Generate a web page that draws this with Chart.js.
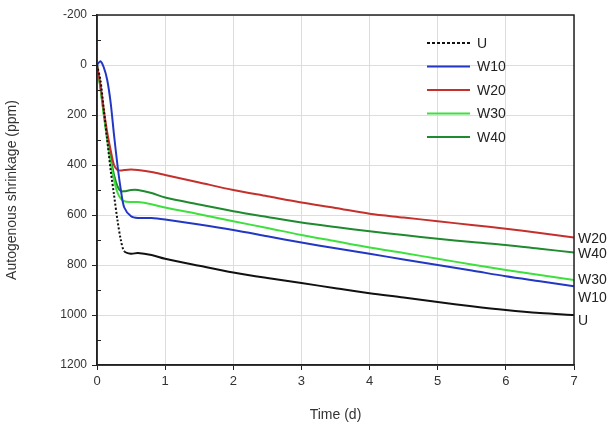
<!DOCTYPE html>
<html>
<head>
<meta charset="utf-8">
<script src="https://cdn.jsdelivr.net/npm/chart.js@4/dist/chart.umd.min.js"></script>
<style>
  body { margin: 0; background: #fff; }
</style>
</head>
<body>
<canvas id="chart" width="614" height="428"></canvas>
<script>
const time = [0, 0.05, 0.1, 0.15, 0.2, 0.25, 0.3, 0.35, 0.4, 0.5, 0.6, 0.8, 1, 1.5, 2, 2.5, 3, 3.5, 4, 4.5, 5, 5.5, 6, 6.5, 7];

const seriesU   = [0, 60, 180, 300, 420, 520, 620, 700, 745, 755, 752, 760, 775, 803, 830, 852, 872, 893, 913, 930, 948, 965, 980, 992, 1000];
const seriesW10 = [0, -15, 10, 60, 150, 280, 400, 500, 570, 605, 612, 612, 618, 638, 660, 685, 710, 733, 755, 778, 800, 822, 845, 865, 885];
const seriesW20 = [0, 80, 180, 270, 340, 400, 420, 422, 420, 418, 420, 428, 440, 470, 500, 525, 550, 572, 595, 610, 625, 640, 655, 672, 690];
const seriesW30 = [0, 90, 200, 300, 390, 460, 510, 535, 545, 548, 548, 557, 570, 597, 625, 652, 680, 705, 730, 752, 775, 798, 820, 840, 860];
const seriesW40 = [0, 90, 195, 290, 370, 440, 485, 505, 505, 500, 500, 512, 530, 558, 585, 608, 630, 648, 665, 680, 695, 708, 720, 735, 750];

const seriesNames = ['U', 'W10', 'W20', 'W30', 'W40'];
const seriesColors = ['#111111', '#2238c4', '#c4302c', '#3ee03e', '#1f8a2e'];

const xTicks = [0, 1, 2, 3, 4, 5, 6, 7];
const yTicks = [-200, 0, 200, 400, 600, 800, 1000, 1200];

const pts = vals => vals.map((v, i) => ({ x: time[i], y: v }));
const allSeries = [seriesU, seriesW10, seriesW20, seriesW30, seriesW40];

const font = '"Liberation Sans", Arial, sans-serif';

// frame around plot, minor ticks, legend inside, labels at line ends
const decorations = {
  id: 'decorations',
  afterDraw(chart) {
    const { ctx, chartArea: a } = chart;
    const yScale = chart.scales.y;
    ctx.save();
    ctx.strokeStyle = '#222';
    ctx.lineWidth = 1.5;
    ctx.strokeRect(a.left, a.top, a.right - a.left, a.bottom - a.top);

    // minor ticks halfway between the major ones
    ctx.lineWidth = 1;
    for (let i = 0; i < yTicks.length - 1; i++) {
      const y = Math.round(yScale.getPixelForValue((yTicks[i] + yTicks[i + 1]) / 2)) + 0.5;
      ctx.beginPath();
      ctx.moveTo(a.left, y);
      ctx.lineTo(a.left + 4, y);
      ctx.stroke();
    }

    // legend
    ctx.font = '14px ' + font;
    ctx.textBaseline = 'middle';
    chart.data.datasets.forEach((ds, i) => {
      const y = a.top + 28 + i * 23.5;
      ctx.strokeStyle = ds.borderColor;
      ctx.lineWidth = 2;
      ctx.setLineDash(i === 0 ? [3, 2] : []);
      ctx.beginPath();
      ctx.moveTo(a.left + 330, y);
      ctx.lineTo(a.left + 373, y);
      ctx.stroke();
      ctx.setLineDash([]);
      ctx.fillStyle = '#222';
      ctx.fillText(ds.label, a.left + 380, y + 1);
    });

    // end labels, nudged apart where lines crowd
    const nudge = { U: 4, W10: 10, W20: 0, W30: -2, W40: 0 };
    chart.data.datasets.forEach(ds => {
      const last = ds.data[ds.data.length - 1];
      const y = yScale.getPixelForValue(last.y) + nudge[ds.label] + 2;
      ctx.fillStyle = '#222';
      ctx.fillText(ds.label, a.right + 4, y);
    });
    ctx.restore();
  }
};

new Chart(document.getElementById('chart').getContext('2d'), {
  type: 'line',
  data: {
    datasets: allSeries.map((vals, i) => ({
      label: seriesNames[i],
      data: pts(vals),
      borderColor: seriesColors[i],
      backgroundColor: seriesColors[i],
      borderWidth: 2,
      pointRadius: 0,
      tension: 0.3,
      segment: i === 0 ? { borderDash: c => (c.p1.parsed.x <= 0.4 ? [2, 2] : undefined) } : undefined
    }))
  },
  options: {
    responsive: false,
    animation: false,
    layout: { padding: { top: 15, right: 40, left: 0, bottom: 0 } },
    plugins: { legend: { display: false }, tooltip: { enabled: false } },
    scales: {
      x: {
        type: 'linear',
        min: 0,
        max: 7,
        afterBuildTicks: s => { s.ticks = xTicks.map(v => ({ value: v })); },
        afterFit: s => { s.height = 63; },
        grid: { color: '#dddddd', tickColor: '#222', tickLength: 5 },
        border: { color: '#222', width: 1.5 },
        ticks: { color: '#333', font: { family: font, size: 13 }, padding: 4, callback: v => String(v) },
        title: { display: true, text: 'Time (d)', color: '#333', font: { family: font, size: 14 }, padding: { top: 0 } }
      },
      y: {
        type: 'linear',
        reverse: true,
        min: -200,
        max: 1200,
        afterBuildTicks: s => { s.ticks = yTicks.map(v => ({ value: v })); },
        afterFit: s => { s.width = 97; },
        grid: { color: '#dddddd', tickColor: '#222', tickLength: 5 },
        border: { color: '#222', width: 1.5 },
        ticks: { color: '#333', font: { family: font, size: 12 }, padding: 5, callback: v => String(v) },
        title: { display: true, text: 'Autogenous shrinkage (ppm)', color: '#333', font: { family: font, size: 14 }, padding: { top: 4, bottom: 4 } }
      }
    }
  },
  plugins: [decorations]
});
</script>
</body>
</html>
